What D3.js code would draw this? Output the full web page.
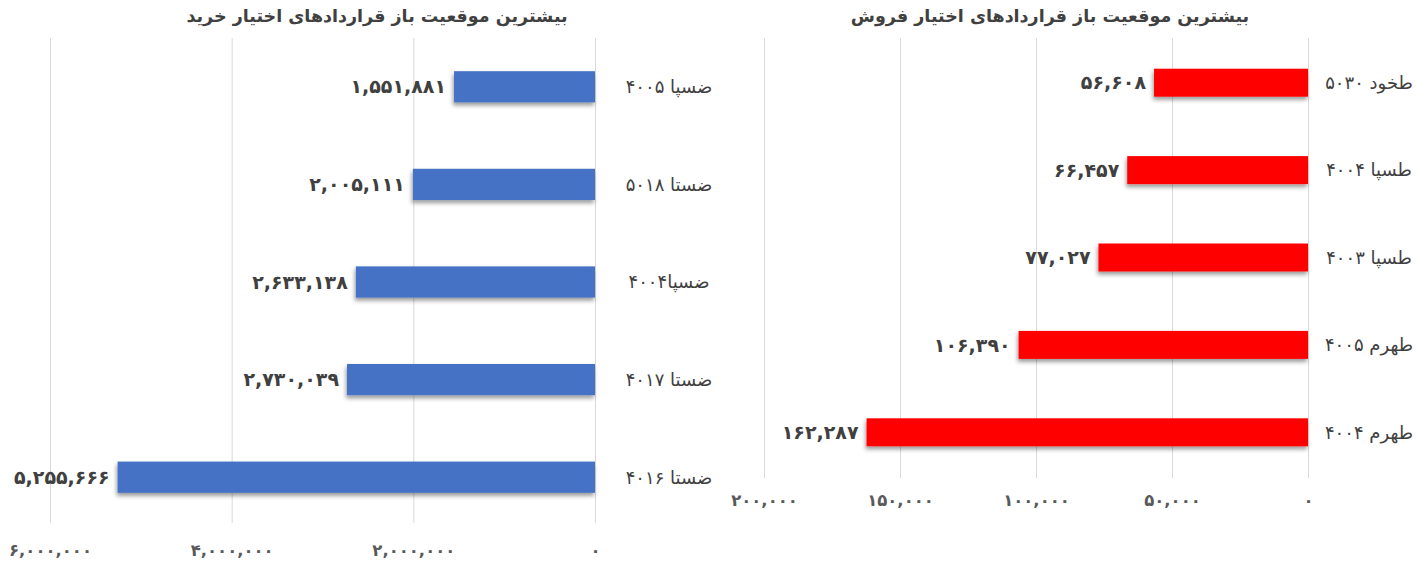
<!DOCTYPE html>
<html>
<head>
<meta charset="utf-8">
<script src="https://cdn.jsdelivr.net/npm/d3@7"></script>
<style>
  body { margin: 0; background: #fff; }
  svg { display: block; font-family: "DejaVu Sans", sans-serif; }
</style>
</head>
<body>
<div id="chart"></div>
<script>
// Call options (left panel)
const callTitle = "بیشترین موقعیت باز قراردادهای اختیار خرید";
const callLabels = ["ضسپا ۴۰۰۵", "ضستا ۵۰۱۸", "ضسپا۴۰۰۴", "ضستا ۴۰۱۷", "ضستا ۴۰۱۶"];
const callValues = [1551881, 2005111, 2633138, 2730039, 5255666];
const callTicks = [0, 2000000, 4000000, 6000000];

// Put options (right panel)
const putTitle = "بیشترین موقعیت باز قراردادهای اختیار فروش";
const putLabels = ["طخود ۵۰۳۰", "طسپا ۴۰۰۴", "طسپا ۴۰۰۳", "طهرم ۴۰۰۵", "طهرم ۴۰۰۴"];
const putValues = [56608, 66457, 77027, 106390, 162287];
const putTicks = [0, 50000, 100000, 150000, 200000];

const W = 1417, H = 566;
const svg = d3.select("#chart").append("svg")
    .attr("width", W)
    .attr("height", H);

// soft shadow under the bars, like the spreadsheet export
const defs = svg.append("defs");
const f = defs.append("filter").attr("id", "shadow")
    .attr("x", "-5%").attr("y", "-20%").attr("width", "110%").attr("height", "160%");
f.append("feDropShadow")
    .attr("dx", -1).attr("dy", 3).attr("stdDeviation", 2)
    .attr("flood-color", "#000").attr("flood-opacity", 0.4);

const fa = d3.format(",");
const persian = s => String(s).replace(/[0-9]/g, c => "۰۱۲۳۴۵۶۷۸۹"[+c]);

function drawPanel(cfg) {
    const g = svg.append("g");

    const x = d3.scaleLinear()
        .domain([0, cfg.max])
        .range([cfg.zeroX, cfg.maxX]);

    const y = d3.scaleBand()
        .domain(cfg.labels)
        .range([cfg.top, cfg.bottom])
        .paddingInner(0.68)
        .paddingOuter(0.34);

    // Gridlines
    g.append("g")
        .attr("transform", `translate(0,${cfg.gridBottom})`)
        .call(d3.axisBottom(x).tickValues(cfg.ticks).tickSize(-(cfg.gridBottom - cfg.gridTop)).tickFormat(""))
        .call(a => a.select(".domain").remove())
        .call(a => a.selectAll("line").attr("stroke", "#d9d9d9"));

    // Tick labels
    g.append("g")
        .attr("transform", `translate(0,${cfg.tickY})`)
        .call(d3.axisBottom(x).tickValues(cfg.ticks).tickSize(0).tickFormat(d => persian(fa(d))))
        .call(a => a.select(".domain").remove())
        .call(a => a.selectAll("text")
            .attr("dy", "0.35em").attr("y", 0)
            .attr("fill", "#595959")
            .attr("font-size", 16.5)
            .attr("font-weight", "bold")
            .attr("font-family", "DejaVu Sans"));

    const rows = cfg.labels.map((l, i) => ({label: l, value: cfg.values[i]}));

    // Bars
    g.selectAll("rect.bar")
        .data(rows)
        .enter()
        .append("rect")
        .attr("class", "bar")
        .attr("x", d => x(d.value))
        .attr("y", d => y(d.label))
        .attr("width", d => x(0) - x(d.value))
        .attr("height", y.bandwidth())
        .attr("fill", cfg.color)
        .attr("filter", "url(#shadow)");

    // Value labels
    g.selectAll("text.val")
        .data(rows)
        .enter()
        .append("text")
        .attr("class", "val")
        .attr("x", d => x(d.value) - 8)
        .attr("y", d => y(d.label) + y.bandwidth() / 2)
        .attr("dy", "0.35em")
        .attr("text-anchor", "end")
        .attr("direction", "ltr")
        .attr("fill", "#404040")
        .attr("font-size", 19)
        .attr("font-weight", "bold")
        .text(d => persian(fa(d.value)));

    // Category labels
    g.selectAll("text.cat")
        .data(rows)
        .enter()
        .append("text")
        .attr("class", "cat")
        .attr("x", cfg.labelX)
        .attr("y", d => y(d.label) + y.bandwidth() / 2)
        .attr("dy", "0.35em")
        .attr("text-anchor", "middle")
        .attr("fill", "#404040")
        .attr("font-size", 18)
        .text(d => d.label);

    // Title
    g.append("text")
        .attr("x", cfg.titleX)
        .attr("y", 22)
        .attr("text-anchor", "middle")
        .attr("fill", "#404040")
        .attr("font-size", 17.5)
        .attr("font-weight", "bold")
        .text(cfg.title);
}

drawPanel({
    title: callTitle, labels: callLabels, values: callValues, ticks: callTicks,
    max: 6000000, zeroX: 595, maxX: 50,
    top: 38, bottom: 526, gridTop: 38, gridBottom: 523, tickY: 550,
    color: "#4472C4", labelX: 669, titleX: 377
});

drawPanel({
    title: putTitle, labels: putLabels, values: putValues, ticks: putTicks,
    max: 200000, zeroX: 1308, maxX: 764,
    top: 39, bottom: 476, gridTop: 38, gridBottom: 478, tickY: 500,
    color: "#FF0000", labelX: 1369, titleX: 1050
});
</script>
</body>
</html>
